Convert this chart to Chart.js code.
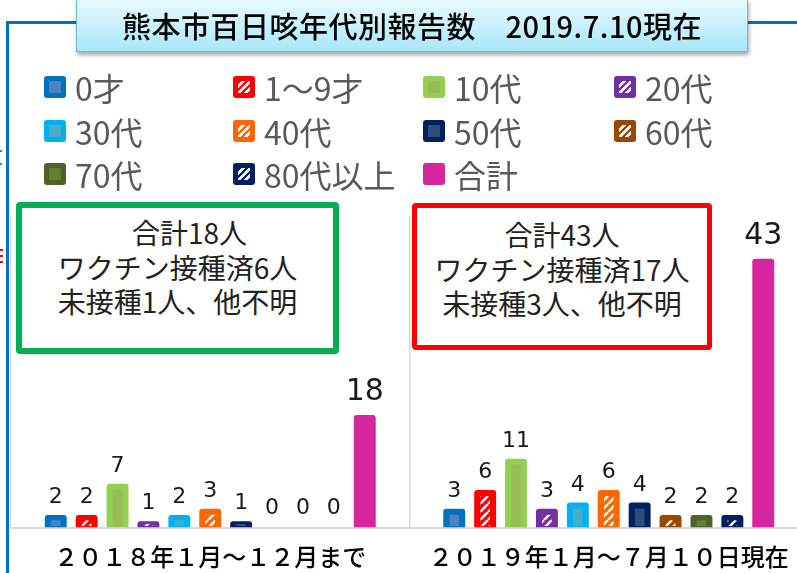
<!DOCTYPE html>
<html><head><meta charset="utf-8">
<script src="https://cdn.jsdelivr.net/npm/chart.js@4.4.1/dist/chart.umd.min.js"></script>
<style>
html,body{margin:0;padding:0;width:797px;height:573px;overflow:hidden;background:#fff;}
body{position:relative;font-family:"Noto Sans CJK JP","Noto Sans",sans-serif;}
#cv{position:absolute;left:0;top:0;}
.bl{position:absolute;background:#0070C0;}
#title{position:absolute;left:76px;top:-1px;width:672px;height:53px;box-sizing:border-box;border:1.5px solid #6cbdd4;
 background:linear-gradient(#e8fafe,#a9e7f9);box-shadow:1px 3px 4px rgba(0,0,0,.35);font-size:29px;line-height:50px;
 text-align:center;color:#000;white-space:pre;font-weight:500;letter-spacing:0.5px;}
.lg{position:absolute;height:32px;display:flex;align-items:center;font-size:32px;color:#595959;white-space:nowrap;}
.sq{width:22px;height:22px;border-radius:3px;margin-right:9px;position:relative;flex:none;}
.sq i{position:absolute;left:5px;top:5px;width:12px;height:12px;}
.box{position:absolute;box-sizing:border-box;background:#fff;border-radius:4px;}
.ln{position:absolute;left:0;right:0;text-align:center;font-size:28px;line-height:34px;color:#222;white-space:pre;}
.mk{position:absolute;}
</style></head>
<body>
<canvas id="cv" width="812" height="573"></canvas>
<div class="bl" style="left:6px;top:21px;width:3px;height:560px"></div>
<div class="bl" style="left:6px;top:21px;width:72px;height:3px"></div>
<div class="bl" style="left:746px;top:21px;width:60px;height:3px"></div>
<div class="mk" style="left:0;top:150px;width:2px;height:2px;background:#00B050"></div>
<div class="mk" style="left:0;top:163px;width:2px;height:2px;background:#00B050"></div>
<div class="mk" style="left:0;top:249px;width:3px;height:2px;background:#f00"></div>
<div class="mk" style="left:0;top:255px;width:3px;height:2px;background:#f00"></div>
<div class="mk" style="left:0;top:261px;width:3px;height:2px;background:#f00"></div>
<div id="title">熊本市百日咳年代別報告数　2019.7.10現在</div>
<div id="legend"></div>
<div class="box" style="left:16px;top:202px;width:323px;height:152px;border:6px solid #00B050">
  <div class="ln" style="top:7px;padding-left:24px">合計18人</div>
  <div class="ln" style="top:42px">ワクチン接種済6人</div>
  <div class="ln" style="top:76px">未接種1人、他不明</div>
</div>
<div class="box" style="left:412px;top:203px;width:300px;height:147px;border:5px solid #FF0000">
  <div class="ln" style="top:9px">合計43人</div>
  <div class="ln" style="top:44px">ワクチン接種済17人</div>
  <div class="ln" style="top:78px">未接種3人、他不明</div>
</div>
<script>
// ---- data ----
const categories = ['２０１８年１月～１２月まで', '２０１９年１月～７月１０日現在'];
const seriesNames = ['0才', '1～9才', '10代', '20代', '30代', '40代', '50代', '60代', '70代', '80代以上', '合計'];
const age0 = [2, 3];
const age1to9 = [2, 6];
const age10s = [7, 11];
const age20s = [1, 3];
const age30s = [2, 4];
const age40s = [3, 6];
const age50s = [1, 4];
const age60s = [0, 2];
const age70s = [0, 2];
const age80plus = [0, 2];
const total = [18, 43];
const seriesValues = [age0, age1to9, age10s, age20s, age30s, age40s, age50s, age60s, age70s, age80plus, total];

// ---- styles ----
const outerColors = ['#0070C0','#FF0000','#92D050','#7030A0','#00B0F0','#FF6600','#002060','#974706','#4F6228','#002060','#D5259F'];
const innerColors = ['#4F81BD',null,'#9BBB59',null,'#4BACC6',null,'#2E4D7B',null,'#62802F',null,null];
const hatched = [false,true,false,true,false,true,false,true,false,true,false];

// legend (HTML)
const legendPos = [[44,71],[233,71],[423,71],[614,71],[44,115],[233,115],[423,115],[614,115],[44,158],[233,158],[423,158]];
const lg = document.getElementById('legend');
seriesNames.forEach((n,i)=>{
  const d=document.createElement('div'); d.className='lg';
  d.style.left=legendPos[i][0]+'px'; d.style.top=legendPos[i][1]+'px';
  const s=document.createElement('div'); s.className='sq'; s.style.background=outerColors[i];
  if(i<10){ const inn=document.createElement('i');
    inn.style.background = hatched[i] ? 'repeating-linear-gradient(135deg,'+outerColors[i]+' 0 2.5px,rgba(255,255,255,.92) 2.5px 5px)' : innerColors[i];
    s.appendChild(inn);}
  d.appendChild(s); const t=document.createElement('span'); t.textContent=n; d.appendChild(t); lg.appendChild(d);
});

function makeHatch(ctx){
  const c=document.createElement('canvas'); c.width=8; c.height=8;
  const g=c.getContext('2d'); g.strokeStyle='rgba(255,255,255,0.92)'; g.lineWidth=2.6;
  g.beginPath(); for(let k=-8;k<=8;k+=8){ g.moveTo(k,8); g.lineTo(k+8,0);} g.stroke();
  return ctx.createPattern(c,'repeat');
}

const decor = {
  id:'decor',
  afterDatasetsDraw(chart){
    const ctx=chart.ctx; const pat=makeHatch(ctx);
    chart.data.datasets.forEach((ds,di)=>{
      const meta=chart.getDatasetMeta(di);
      meta.data.forEach((el,j)=>{
        const h=el.base-el.y;
        if(h>0 && di<10){
          const ix=el.width*0.28, top=el.y+Math.min(6,h*0.42), bot=el.base-1.5;
          if(bot-top>0.8){
            ctx.save(); ctx.fillStyle=hatched[di]?pat:innerColors[di];
            ctx.fillRect(el.x-el.width/2+ix, top, el.width-2*ix, bot-top); ctx.restore();
          }
        }
        const v=ds.data[j]; const big=(di===10);
        ctx.save(); ctx.fillStyle='#1a1a1a'; ctx.textAlign='center'; ctx.textBaseline='alphabetic';
        ctx.font=(big?'30px':'22px')+' "DejaVu Sans", sans-serif';
        ctx.fillText(String(v), el.x, el.y-(big?15:(h>0?12:14)));
        ctx.restore();
      });
    });
  }
};

new Chart(document.getElementById('cv'),{
  type:'bar',
  data:{labels:categories,
    datasets:seriesNames.map((n,i)=>({label:n,data:seriesValues[i],backgroundColor:outerColors[i],
      borderRadius:3,borderSkipped:'start',barPercentage:0.71,categoryPercentage:0.853}))},
  options:{responsive:false,animation:false,
    layout:{padding:{left:11,right:4,top:215,bottom:0}},
    plugins:{legend:{display:false},title:{display:false},tooltip:{enabled:false}},
    scales:{
      x:{grid:{display:true,color:'#D9D9D9',lineWidth:1.5,drawTicks:false,offset:true},
         border:{display:true,color:'#D9D9D9',width:2},
         ticks:{color:'#000',font:{family:'"Noto Sans CJK JP"',size:24,weight:'500'},padding:15,maxRotation:0,autoSkip:false},
         afterFit(a){a.height=45.5;}},
      y:{display:false,min:0,max:50}
    }},
  plugins:[decor]
});
</script>
</body></html>
